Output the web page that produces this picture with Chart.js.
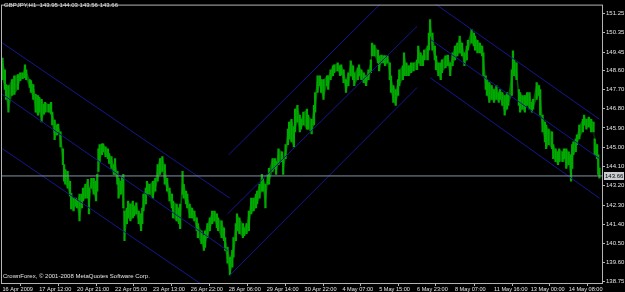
<!DOCTYPE html>
<html><head><meta charset="utf-8">
<script src="https://cdn.jsdelivr.net/npm/chart.js@4"></script>
<style>
html,body{margin:0;padding:0;background:#000;}
#wrap{position:relative;width:625px;height:292px;overflow:hidden;background:#000;}
canvas{display:block;}
.t{position:absolute;color:#e4e4e4;font-family:"Liberation Sans",Arial,sans-serif;font-size:6px;line-height:7px;white-space:pre;}
#bidlab{position:absolute;background:#c9ccd0;color:#000;font-family:"Liberation Sans",Arial,sans-serif;font-size:6px;line-height:8px;height:8px;padding:0 1px;}
</style></head><body>
<div id="wrap"><canvas id="c" width="625" height="292"></canvas>
<div class="t" id="title" style="left:4px;top:2px"></div>
<div class="t" id="copy" style="left:3px;top:273px"></div>
<div id="bidlab"></div>
</div>
<script>
const symbol = "GBPJPY,H1";
const lastOHLC = ["143.95", "144.03", "143.56", "143.66"];
const copyright = "CrownForex, © 2001-2008 MetaQuotes Software Corp.";
const bid = 143.66;

// bar index (hours since first bar) of each sampled bar
const hours = [
0,2,3,5,8,10,13,15,17,19,
20,23,24,26,28,30,31,33,35,36,
39,41,42,44,46,47,49,51,52,53,
55,57,58,60,62,63,65,67,68,70,
72,73,75,77,79,80,81,82,84,85,
87,89,90,92,94,95,97,98,100,101,
102,103,105,106,108,110,111,113,115,117,
118,119,121,122,124,127,129,131,133,135,
137,139,141,143,144,147,149,150,152,153,
155,156,158,160,162,164,165,168,170,171,
173,175,177,179,181,182,185,187,188,190,
192,194,195,197,198,200,203,204,206,208,
210,212,214,215,217,219,220,222,224,225,
228,230,231,233,236,237,239,241,242,244,
246,247,249,251,252,254,257,258,261,263,
264,266,268,269,271,274,275,277,279,280,
283,285,286,288,290,292,294,296,297,300,
301,303,305,307,309,311,312,314,317,318,
320,322,323,325,327,328,330,332,334,335,
338,339,341,343,345,347,350,351,353,355,
356,359,360,361,363,365,366,368,370,371,
374,376,378,380,382,384,386,388,390,392,
393,396,398,399,401,403,405,406,408,409,
411,413,415,417,419,420,422,424,426,427,
430,431,432,434,436,437,439,441,443,445,
447,448,451,453,454,456,458,459,461,464,
465,467,469,470,473,474,476,478,480,481,
482,484,485,487,490,491,493,495,497,499,
500,502,503,504];

const highs = [
149.17,148.62,147.93,147.88,148.16,148.34,148.39,148.48,148.48,148.85,
148.62,148.16,148.11,147.93,147.47,147.42,147.33,147.24,147.01,147.10,
147.01,147.10,146.64,146.27,146.04,146.08,145.72,144.93,144.19,143.96,
143.87,143.41,142.85,142.62,142.62,142.49,142.81,142.81,143.09,143.27,
143.50,143.09,143.55,143.55,143.41,143.73,144.93,145.12,145.16,145.16,
145.02,144.93,144.70,144.56,144.19,144.47,143.87,143.55,143.41,143.64,
143.73,142.02,142.16,142.49,142.35,142.49,142.25,142.40,142.02,141.89,
142.16,142.81,143.09,143.41,143.27,143.41,143.55,144.19,144.47,144.56,
144.19,143.55,143.09,142.81,142.49,142.35,142.16,142.35,143.87,143.27,
142.95,142.81,142.35,142.16,142.02,141.70,141.43,141.10,140.87,141.10,
141.43,141.70,142.02,142.02,141.89,141.70,141.56,141.24,140.78,140.32,
139.86,140.18,140.78,141.43,141.89,141.70,141.43,141.24,141.43,142.02,
142.62,142.62,142.81,142.95,143.27,143.73,143.55,143.27,143.73,144.01,
144.47,144.47,144.33,144.93,144.79,144.47,145.12,145.85,146.18,146.31,
145.95,146.78,146.96,146.50,146.31,146.64,146.78,146.50,146.31,146.96,
147.56,148.34,148.34,148.16,148.16,148.34,148.34,148.62,148.81,148.85,
148.94,148.81,148.85,148.62,148.16,148.48,149.04,148.81,148.48,148.71,
148.85,148.62,148.48,148.34,148.62,149.08,149.87,149.77,149.54,149.27,
149.31,149.27,149.27,149.27,148.94,148.34,147.88,147.70,148.16,148.62,
148.81,149.41,148.94,148.81,148.94,148.94,149.08,149.73,149.41,149.27,
149.54,149.73,150.33,150.97,150.33,149.73,149.27,148.94,148.94,149.08,
149.27,149.31,148.94,149.41,149.73,149.87,150.19,149.87,149.41,149.73,
150.00,150.51,150.33,150.19,150.00,149.87,149.73,149.41,148.34,148.16,
148.02,147.88,147.70,147.88,147.56,147.70,147.56,147.42,147.56,147.42,
148.62,149.50,149.08,148.94,147.70,147.56,147.42,147.42,147.56,147.56,
147.10,147.24,148.02,147.88,147.70,146.50,146.18,146.04,145.85,145.72,
145.12,144.93,144.79,144.93,144.79,144.93,144.93,144.79,144.65,145.12,
145.25,145.39,145.58,146.04,146.31,146.50,146.31,146.41,146.31,146.18,
145.39,145.12,144.65,144.03];

const lows = [
148.16,147.70,147.24,146.64,147.42,147.47,147.70,148.11,148.21,148.25,
148.16,147.79,147.56,147.24,146.64,146.50,146.64,146.18,146.55,146.64,
146.64,146.55,146.04,145.35,145.58,145.72,145.02,144.19,143.41,143.27,
143.09,142.72,142.12,142.02,142.25,142.16,141.56,142.16,142.49,142.62,
142.62,141.89,143.09,142.81,142.49,142.95,143.87,144.33,144.65,144.79,
144.56,144.47,144.24,144.01,143.73,143.73,143.27,142.62,142.81,143.09,
142.16,140.64,141.43,141.70,141.56,141.70,141.79,141.89,141.43,141.10,
141.43,142.02,142.35,142.81,142.81,142.62,142.95,143.41,143.73,143.87,
143.27,142.95,142.49,142.16,141.70,141.56,141.43,141.20,142.81,142.62,
142.35,142.16,141.70,141.70,141.56,141.10,140.78,140.50,140.18,140.32,
140.78,141.10,141.43,141.56,141.24,141.10,140.78,140.64,140.18,139.58,
139.03,139.40,139.86,140.64,141.10,140.96,140.78,140.87,140.96,141.10,
141.89,142.02,142.16,142.35,142.62,142.95,142.95,142.16,143.27,143.27,
143.87,144.01,143.73,144.19,144.33,143.73,144.47,145.12,145.39,145.25,
145.02,145.72,146.18,145.72,145.85,146.04,145.85,145.85,145.62,146.04,
146.64,147.56,147.88,147.56,147.24,147.88,147.70,148.16,148.34,148.48,
148.57,148.34,148.39,148.02,147.56,147.88,148.34,148.16,147.88,148.16,
148.34,148.16,148.02,147.88,148.16,148.48,149.27,149.27,148.94,148.57,
148.94,148.94,148.81,148.94,148.16,147.56,147.10,146.96,147.42,147.88,
148.16,148.34,148.34,148.34,148.48,148.57,148.62,148.94,148.81,148.81,
149.08,149.08,149.54,150.19,149.54,149.08,148.62,148.34,148.16,148.48,
148.71,148.81,148.34,148.81,149.08,149.27,149.41,149.27,148.81,149.08,
149.54,149.87,149.73,149.54,149.41,149.41,149.27,148.34,147.70,147.42,
147.10,147.24,147.10,147.24,147.10,147.24,146.96,146.50,146.78,146.96,
147.42,148.62,148.34,148.16,146.96,146.64,146.78,146.64,146.96,146.78,
146.64,146.78,147.24,147.42,146.50,145.72,145.25,144.93,145.12,144.93,
144.47,144.33,144.19,144.33,144.33,144.47,144.01,144.19,143.41,144.01,
144.65,144.79,145.12,145.39,145.72,146.04,145.85,145.95,145.72,145.72,
144.65,144.47,143.73,143.56];

const timeTickHours = [0,31,63,95,127,159,191,223,255,287,318,350,382,415,446,478];
const timeTickLabels = ["16 Apr 2009","17 Apr 12:00","20 Apr 21:00","22 Apr 05:00","23 Apr 13:00","26 Apr 22:00","28 Apr 06:00","29 Apr 14:00","30 Apr 22:00","4 May 07:00","5 May 15:00","6 May 23:00","8 May 07:00","11 May 16:00","13 May 00:00","14 May 08:00"];
const priceTicks = [151.25,150.35,149.45,148.60,147.70,146.80,145.90,145.00,144.10,143.20,142.30,141.40,140.50,139.60,138.75];

// trend channel lines: [hour, price] start and end
const channelLines = [
  [[0,149.87],[192,142.62]],
  [[0,147.47],[190,140.18]],
  [[0,144.93],[170,138.52]],
  [[191,144.65],[320,151.75]],
  [[190,141.89],[350,150.65]],
  [[192,139.03],[350,147.79]],
  [[364,151.75],[504,146.31]],
  [[361,150.05],[504,144.47]],
  [[361,148.25],[504,142.62]]
];

const xMin = -1.27, xMax = 506.16;
const yMin = 138.658, yMax = 151.665;

document.getElementById('title').textContent = symbol + "  " + lastOHLC.join(" ");
document.getElementById('copy').textContent = copyright;

const FONT = {family:'"Liberation Sans", Arial, sans-serif', size:6};
const XFONT = {family:'"Liberation Sans", Arial, sans-serif', size:5.6};
const datasets = [];
datasets.push({type:'line', data: hours.map((h,i)=>({x:h,y:highs[i]})), borderWidth:0, borderColor:'rgba(0,0,0,0)', pointRadius:0, fill:'+1', backgroundColor:'#006400', order:5, tension:0});
datasets.push({type:'line', data: hours.map((h,i)=>({x:h,y:lows[i]})), borderWidth:0, borderColor:'rgba(0,0,0,0)', pointRadius:0, fill:false, order:5, tension:0});
datasets.push({type:'bar', data: hours.map((h,i)=>({x:h,y:[lows[i],highs[i]]})), backgroundColor:'#00aa00', barThickness:1.6, borderWidth:0, order:4});
channelLines.forEach(seg=>{
  datasets.push({type:'line', data: seg.map(p=>({x:p[0],y:p[1]})), borderColor:'#16168f', borderWidth:1, pointRadius:0, fill:false, order:2, tension:0});
});
datasets.push({type:'line', data:[{x:xMin,y:bid},{x:xMax,y:bid}], borderColor:'#8593a2', borderWidth:1, pointRadius:0, fill:false, order:1});

const framePlugin = {
  id:'frame',
  afterDraw(chart){
    const a = chart.chartArea, c = chart.ctx;
    c.save();
    c.strokeStyle = '#b4b4b4'; c.lineWidth = 1;
    c.strokeRect(a.left+0.5, a.top+0.5, a.right-a.left, a.bottom-a.top);
    c.restore();
  }
};

const chart = new Chart(document.getElementById('c'), {
  type:'bar',
  data:{datasets},
  plugins:[framePlugin],
  options:{
    responsive:false, animation:false, devicePixelRatio:1,
    layout:{padding:{left:1, top:1, right:0, bottom:0}},
    plugins:{legend:{display:false}, tooltip:{enabled:false}, title:{display:false}},
    scales:{
      x:{type:'linear', min:xMin, max:xMax, offset:false, position:'bottom',
        grid:{display:true, drawOnChartArea:false, drawTicks:true, tickLength:3, color:'#b4b4b4', lineWidth:1},
        border:{display:false},
        ticks:{autoSkip:false, maxRotation:0, minRotation:0, align:'start', padding:0, color:'#e4e4e4', font:XFONT,
          callback:(v,i)=>timeTickLabels[i]},
        afterBuildTicks:s=>{ s.ticks = timeTickHours.map(v=>({value:v})); },
        afterFit:s=>{ s.height = 9; }
      },
      y:{type:'linear', position:'right', min:yMin, max:yMax,
        grid:{display:true, drawOnChartArea:false, drawTicks:true, tickLength:3, color:'#b4b4b4', lineWidth:1},
        border:{display:false},
        ticks:{padding:1, color:'#e4e4e4', font:FONT, callback:v=>Number(v).toFixed(2)},
        afterBuildTicks:s=>{ s.ticks = priceTicks.map(v=>({value:v})); },
        afterFit:s=>{ s.width = 23; }
      }
    }
  }
});

const lab = document.getElementById('bidlab');
lab.textContent = bid.toFixed(2);
const py = chart.scales.y.getPixelForValue(bid);
lab.style.left = (chart.chartArea.right + 2) + 'px';
lab.style.top = Math.round(py - 4) + 'px';
</script>
</body></html>
